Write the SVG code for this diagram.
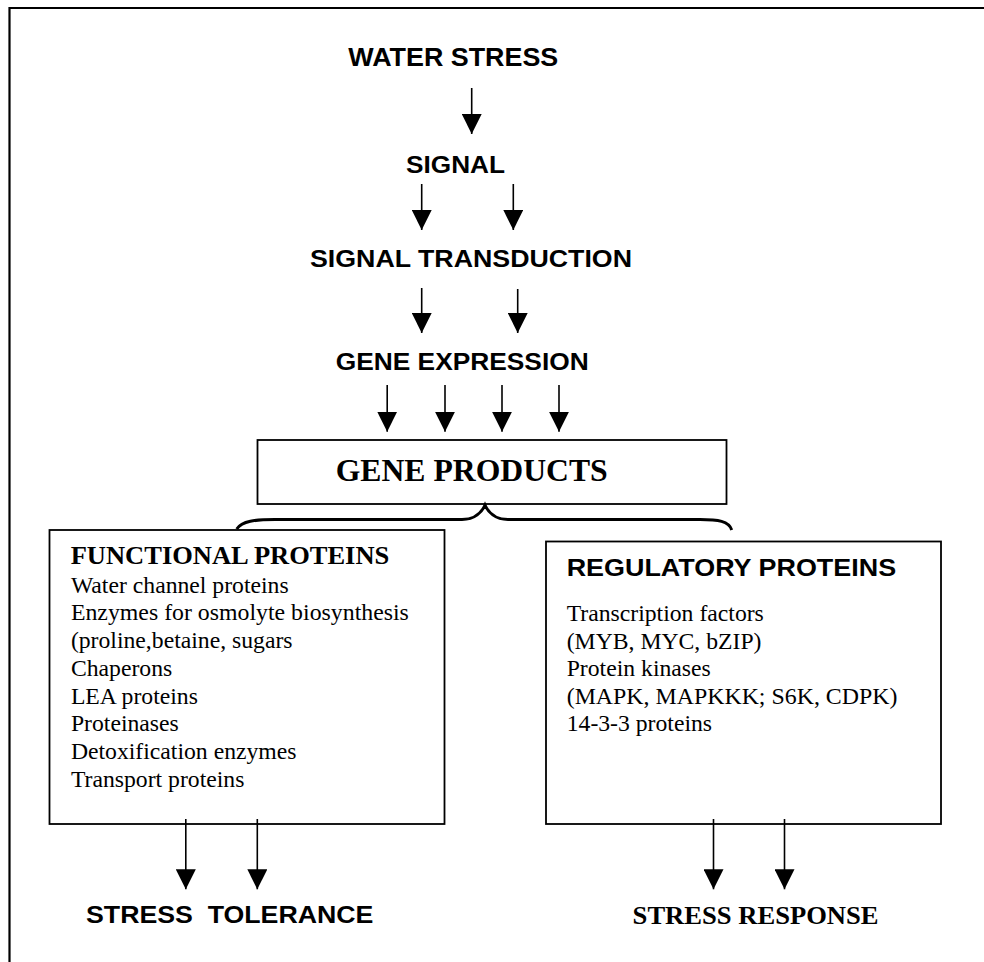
<svg xmlns="http://www.w3.org/2000/svg" width="984" height="962" viewBox="0 0 984 962">
<defs>
<marker id="ah" markerUnits="userSpaceOnUse" markerWidth="20" markerHeight="20" viewBox="0 0 20 20" refX="20" refY="10" orient="auto">
<path d="M0,0 L20,10 L0,20 Z" fill="#000"/>
</marker>
<style>
.sans{font-family:"Liberation Sans",Arial,sans-serif;font-weight:bold;fill:#000}
.serifb{font-family:"Liberation Serif","Times New Roman",serif;font-weight:bold;fill:#000}
.serif{font-family:"Liberation Serif","Times New Roman",serif;font-size:23.7px;fill:#000}
.box{fill:#fff;stroke:#000;stroke-width:1.8}
.arr{stroke:#000;stroke-width:1.6;fill:none;marker-end:url(#ah)}
</style>
</defs>
<rect width="984" height="962" fill="#fff"/>
<g id="frame" stroke="#000" stroke-width="2.2" fill="none">
<path d="M9.5,962 L9.5,8 L984,8"/>
</g>
<g id="water-stress"><text class="sans" x="348.3" y="66.3" font-size="25.5" textLength="210" lengthAdjust="spacingAndGlyphs">WATER STRESS</text></g>
<g id="signal"><text class="sans" x="406" y="172.7" font-size="24.5" textLength="99" lengthAdjust="spacingAndGlyphs">SIGNAL</text></g>
<g id="signal-transduction"><text class="sans" x="310" y="266.7" font-size="24" textLength="322" lengthAdjust="spacingAndGlyphs">SIGNAL TRANSDUCTION</text></g>
<g id="gene-expression"><text class="sans" x="335.7" y="370" font-size="24" textLength="253" lengthAdjust="spacingAndGlyphs">GENE EXPRESSION</text></g>
<g id="gene-products">
<rect class="box" x="257.5" y="440" width="469" height="64"/>
<text class="serifb" x="335.7" y="481" font-size="31.5" textLength="272" lengthAdjust="spacingAndGlyphs">GENE PRODUCTS</text>
</g>
<g id="functional-proteins">
<rect class="box" x="49.5" y="530" width="395" height="294"/>
<text class="serifb" x="70.7" y="564" font-size="25" textLength="318.6" lengthAdjust="spacingAndGlyphs">FUNCTIONAL PROTEINS</text>
<text class="serif" x="70.9" y="592.7">Water channel proteins</text>
<text class="serif" x="70.9" y="620.4" textLength="338" lengthAdjust="spacingAndGlyphs">Enzymes for osmolyte biosynthesis</text>
<text class="serif" x="70.9" y="648.1">(proline,betaine, sugars</text>
<text class="serif" x="70.9" y="675.8">Chaperons</text>
<text class="serif" x="70.9" y="703.5">LEA proteins</text>
<text class="serif" x="70.9" y="731.2">Proteinases</text>
<text class="serif" x="70.9" y="758.9">Detoxification enzymes</text>
<text class="serif" x="70.9" y="786.6">Transport proteins</text>
</g>
<g id="regulatory-proteins">
<rect class="box" x="546" y="541.5" width="395" height="282.5"/>
<text class="sans" x="566.7" y="576" font-size="24" textLength="329.4" lengthAdjust="spacingAndGlyphs">REGULATORY PROTEINS</text>
<text class="serif" x="566.7" y="621">Transcription factors</text>
<text class="serif" x="566.7" y="648.5">(MYB, MYC, bZIP)</text>
<text class="serif" x="566.7" y="676">Protein kinases</text>
<text class="serif" x="566.7" y="703.5" textLength="330.7" lengthAdjust="spacingAndGlyphs">(MAPK, MAPKKK; S6K, CDPK)</text>
<text class="serif" x="566.7" y="731">14-3-3 proteins</text>
</g>
<g id="stress-tolerance"><text class="sans" x="86" y="922.7" font-size="24" textLength="287.4" lengthAdjust="spacingAndGlyphs" style="white-space:pre" xml:space="preserve">STRESS  TOLERANCE</text></g>
<g id="stress-response"><text class="serifb" x="632.6" y="924" font-size="26" textLength="246" lengthAdjust="spacingAndGlyphs">STRESS RESPONSE</text></g>
<g id="connectors">
<line class="arr" x1="471.7" y1="88" x2="471.7" y2="134"/>
<line class="arr" x1="421.7" y1="184" x2="421.7" y2="230"/>
<line class="arr" x1="513.3" y1="184" x2="513.3" y2="230"/>
<line class="arr" x1="421.7" y1="288" x2="421.7" y2="333"/>
<line class="arr" x1="517.7" y1="289" x2="517.7" y2="333"/>
<line class="arr" x1="387.2" y1="385" x2="387.2" y2="431.7"/>
<line class="arr" x1="445" y1="385" x2="445" y2="431.7"/>
<line class="arr" x1="502" y1="385" x2="502" y2="431.7"/>
<line class="arr" x1="559" y1="385" x2="559" y2="431.7"/>
<path d="M236.7,529 C242,521 255,519.5 275,519.5 L462,519.5 C475,519.5 482,512 485,505 C488,512 495,519.5 508,519.5 L700,519.5 C718,519.5 729,521 731.7,530" fill="none" stroke="#000" stroke-width="3"/>
<line class="arr" x1="185.8" y1="819" x2="185.8" y2="889.3"/>
<line class="arr" x1="257.3" y1="819" x2="257.3" y2="889.3"/>
<line class="arr" x1="713.5" y1="819" x2="713.5" y2="889.3"/>
<line class="arr" x1="784.5" y1="819" x2="784.5" y2="889.3"/>
</g>
</svg>
